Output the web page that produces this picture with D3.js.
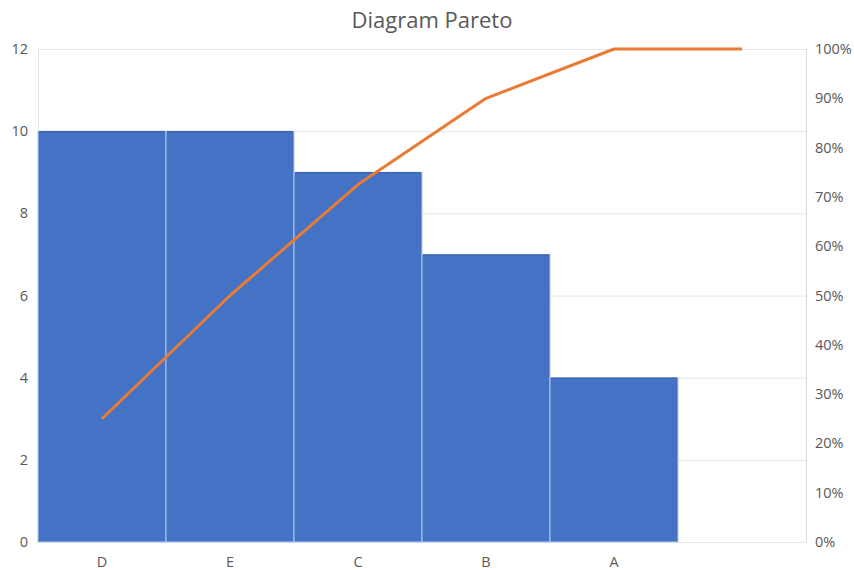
<!DOCTYPE html>
<html>
<head>
<meta charset="utf-8">
<script src="https://cdn.jsdelivr.net/npm/d3@7"></script>
<style>
  body { margin: 0; background: #fff; }
  text { font-family: "Open Sans", "Noto Sans", sans-serif; fill: #595959; }
</style>
</head>
<body>
<div id="chart"></div>
<script>
const FRAME_WIDTH = 854;
const FRAME_HEIGHT = 570;
const MARGINS = {left: 38, right: 48, top: 49, bottom: 28};

const categories = ["D", "E", "C", "B", "A", ""];
const counts = [10, 10, 9, 7, 4];
const cumulative = [0.25, 0.50, 0.725, 0.90, 1.00, 1.00];
const leftTicks = [0, 2, 4, 6, 8, 10, 12];
const rightTicks = [0, 0.1, 0.2, 0.3, 0.4, 0.5, 0.6, 0.7, 0.8, 0.9, 1.0];

const VIS_WIDTH = FRAME_WIDTH - MARGINS.left - MARGINS.right;
const VIS_HEIGHT = FRAME_HEIGHT - MARGINS.top - MARGINS.bottom;

const svg = d3.select("#chart")
  .append("svg")
  .attr("width", FRAME_WIDTH)
  .attr("height", FRAME_HEIGHT);

const X_SCALE = d3.scaleBand()
  .domain(d3.range(categories.length))
  .range([MARGINS.left, MARGINS.left + VIS_WIDTH])
  .padding(0);

const Y_SCALE = d3.scaleLinear()
  .domain([0, 12])
  .range([MARGINS.top + VIS_HEIGHT, MARGINS.top]);

const Y2_SCALE = d3.scaleLinear()
  .domain([0, 1])
  .range([MARGINS.top + VIS_HEIGHT, MARGINS.top]);

// title
svg.append("text")
  .attr("x", FRAME_WIDTH / 2 + 5)
  .attr("y", 28)
  .attr("text-anchor", "middle")
  .attr("font-size", "22px")
  .text("Diagram Pareto");

// gridlines
svg.append("g")
  .selectAll("line")
  .data(leftTicks)
  .enter()
  .append("line")
  .attr("x1", MARGINS.left)
  .attr("x2", MARGINS.left + VIS_WIDTH)
  .attr("y1", d => Y_SCALE(d) + 0.5)
  .attr("y2", d => Y_SCALE(d) + 0.5)
  .attr("stroke", "#e6e6e6")
  .attr("stroke-width", 1);

// side borders
svg.append("line")
  .attr("x1", MARGINS.left + 0.5).attr("x2", MARGINS.left + 0.5)
  .attr("y1", MARGINS.top).attr("y2", MARGINS.top + VIS_HEIGHT)
  .attr("stroke", "#e6e6e6");
svg.append("line")
  .attr("x1", MARGINS.left + VIS_WIDTH + 0.5).attr("x2", MARGINS.left + VIS_WIDTH + 0.5)
  .attr("y1", MARGINS.top).attr("y2", MARGINS.top + VIS_HEIGHT)
  .attr("stroke", "#d9d9d9");

// bars
svg.append("g")
  .selectAll("rect")
  .data(counts)
  .enter()
  .append("rect")
  .attr("x", (d, i) => X_SCALE(i))
  .attr("y", d => Y_SCALE(d))
  .attr("width", X_SCALE.bandwidth())
  .attr("height", d => Y_SCALE(0) - Y_SCALE(d))
  .attr("fill", "#4472c4")
  .attr("stroke", "#b4c7e7")
  .attr("stroke-width", 1);

// bar top edges slightly darker
svg.append("g")
  .selectAll("line")
  .data(counts)
  .enter()
  .append("line")
  .attr("x1", (d, i) => X_SCALE(i) + 1)
  .attr("x2", (d, i) => X_SCALE(i) + X_SCALE.bandwidth() - 1)
  .attr("y1", d => Y_SCALE(d) + 0.5)
  .attr("y2", d => Y_SCALE(d) + 0.5)
  .attr("stroke", "#3d66b0")
  .attr("stroke-width", 1.5);

// cumulative line
const line = d3.line()
  .x((d, i) => X_SCALE(i) + X_SCALE.bandwidth() / 2)
  .y(d => Y2_SCALE(d));

svg.append("path")
  .datum(cumulative)
  .attr("d", line)
  .attr("fill", "none")
  .attr("stroke", "#e97b35")
  .attr("stroke-width", 3)
  .attr("stroke-linejoin", "round");

// left axis labels
svg.append("g")
  .selectAll("text")
  .data(leftTicks)
  .enter()
  .append("text")
  .attr("x", 28)
  .attr("y", d => Y_SCALE(d) + 5)
  .attr("text-anchor", "end")
  .attr("font-size", "14.5px")
  .text(d => d);

// right axis labels
svg.append("g")
  .selectAll("text")
  .data(rightTicks)
  .enter()
  .append("text")
  .attr("x", 815)
  .attr("y", d => Y2_SCALE(d) + 5)
  .attr("text-anchor", "start")
  .attr("font-size", "14.5px")
  .text(d => d3.format(".0%")(d));

// category labels
svg.append("g")
  .selectAll("text")
  .data(categories)
  .enter()
  .append("text")
  .attr("x", (d, i) => X_SCALE(i) + X_SCALE.bandwidth() / 2)
  .attr("y", MARGINS.top + VIS_HEIGHT + 25)
  .attr("text-anchor", "middle")
  .attr("font-size", "14.5px")
  .text(d => d);
</script>
</body>
</html>
